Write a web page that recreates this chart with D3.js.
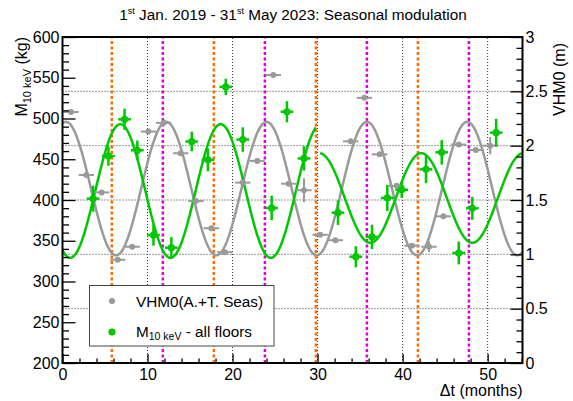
<!DOCTYPE html>
<html lang="en">
  <head>
    <meta charset="utf-8" />
    <script src="https://cdn.jsdelivr.net/npm/d3@7/dist/d3.min.js"></script>
    <title>Seasonal modulation</title>
    <style>
      body { margin: 0; background: #fff; }
      svg { font-family: "Liberation Sans", Arial, sans-serif; display: block; }
      .tick text { font-size: 16px; fill: #000; }
      .grid { stroke: #333; stroke-width: 1; stroke-dasharray: 1 2; }
    </style>
  </head>
  <body>
    <div id="container"></div>

    <script>
      // VHM0 (A.+T. Seas), metres, on the right axis
      const waveMonth = [1.0, 2.8, 4.6, 6.5, 8.2, 10.1, 11.9, 13.9, 15.7, 17.5, 19.1, 21.2, 22.9, 24.8,
        26.6, 28.4, 30.3, 32.1, 33.9, 35.5, 37.3, 39.3, 41.1, 43.1, 44.8, 46.6, 48.6, 50.3];
      const waveHeight = [2.31, 1.73, 1.57, 0.95, 1.07, 2.13, 2.21, 1.93, 1.49, 1.24, 1.02, 1.66, 1.86, 2.65,
        1.65, 1.59, 1.18, 1.13, 2.04, 2.44, 1.92, 1.63, 1.08, 1.07, 1.35, 2.01, 1.96, 2.0];
      const waveErr = [0.02, 0.02, 0.02, 0.02, 0.02, 0.02, 0.02, 0.02, 0.02, 0.02, 0.02, 0.02, 0.02, 0.02,
        0.02, 0.11, 0.02, 0.02, 0.02, 0.02, 0.02, 0.02, 0.02, 0.05, 0.02, 0.02, 0.02, 0.08];
      const waveMonthErr = 0.9;

      // M10keV - all floors, kg, on the left axis
      const massMonth = [3.6, 5.4, 7.3, 8.8, 10.7, 12.8, 15.2, 17.1, 19.2, 21.2, 24.6, 26.4, 28.4,
        32.4, 34.5, 36.4, 38.2, 39.9, 42.75, 44.6, 46.6, 48.2, 51.0];
      const massKg = [401.6, 454, 499, 461, 357, 341.5, 471.8, 449.3, 538.7, 474.2, 390.2, 508.3, 451,
        384.4, 330.4, 354.7, 402.5, 412.6, 437.6, 458.5, 335, 389.8, 482.6];
      const massErr = [16, 12, 13, 12, 13, 13, 12, 14, 10, 15, 15, 13, 15,
        15, 13, 15, 16, 10, 17, 15, 14, 14, 17];
      const massMonthErr = 0.75;

      // cosine fits: [from, to, offset, amplitude, period, month of maximum]
      const waveFit = [[0, 54.1, 1.605, 0.614, 11.8, 0.4]];
      const massFit = [[0, 29.8, 411, 82, 11.8, 6.8], [30.3, 54.1, 402.5, 55, 12, 42.2]];

      const summerLines = [5.8, 17.8, 29.8, 41.8];
      const winterLines = [11.8, 23.8, 35.8, 47.8];

      const width = 573;
      const height = 401;
      const margin = { top: 37, right: 50.5, bottom: 38, left: 62.5 };

      const svg = d3.select("#container").append("svg").attr("width", width).attr("height", height);

      const x = d3.scaleLinear().domain([0, 54.1]).range([margin.left, width - margin.right]);
      const yL = d3.scaleLinear().domain([200, 600]).range([height - margin.bottom, margin.top]);
      const yR = d3.scaleLinear().domain([0, 3]).range([height - margin.bottom, margin.top]);

      const x0 = margin.left, x1 = width - margin.right;
      const y0 = height - margin.bottom, y1 = margin.top;

      // grid
      svg.append("g").selectAll("line").data([10, 20, 30, 40, 50]).join("line")
        .attr("class", "grid")
        .attr("x1", (d) => x(d)).attr("x2", (d) => x(d)).attr("y1", y0).attr("y2", y1);
      svg.append("g").selectAll("line").data([0.5, 1, 1.5, 2, 2.5]).join("line")
        .attr("class", "grid")
        .attr("y1", (d) => yR(d)).attr("y2", (d) => yR(d)).attr("x1", x0).attr("x2", x1);

      // seasons
      svg.append("g").selectAll("line").data(summerLines).join("line")
        .attr("x1", (d) => x(d)).attr("x2", (d) => x(d)).attr("y1", y0).attr("y2", y1)
        .attr("stroke", "#ff6a00").attr("stroke-width", 2.5).attr("stroke-dasharray", "3 2.5");
      svg.append("g").selectAll("line").data(winterLines).join("line")
        .attr("x1", (d) => x(d)).attr("x2", (d) => x(d)).attr("y1", y0).attr("y2", y1)
        .attr("stroke", "#dd00dd").attr("stroke-width", 2.5).attr("stroke-dasharray", "3 2.5");

      // fits
      function fitPoints(f) {
        const [a, b, c, amp, per, pk] = f;
        return d3.range(a, b + 0.001, 0.1).map((t) => [t, c + amp * Math.cos((2 * Math.PI * (t - pk)) / per)]);
      }
      const lineR = d3.line().x((d) => x(d[0])).y((d) => yR(d[1]));
      const lineL = d3.line().x((d) => x(d[0])).y((d) => yL(d[1]));

      svg.append("g").selectAll("path").data(waveFit).join("path")
        .attr("d", (f) => lineR(fitPoints(f)))
        .attr("fill", "none").attr("stroke", "#9a9a9a").attr("stroke-width", 2.5);
      svg.append("g").selectAll("path").data(massFit).join("path")
        .attr("d", (f) => lineL(fitPoints(f)))
        .attr("fill", "none").attr("stroke", "#00c800").attr("stroke-width", 2.5);

      // gray points
      const gW = svg.append("g").attr("stroke", "#9a9a9a").attr("fill", "#9a9a9a");
      waveMonth.forEach((m, i) => {
        const v = waveHeight[i];
        gW.append("line").attr("x1", x(m - waveMonthErr)).attr("x2", x(m + waveMonthErr))
          .attr("y1", yR(v)).attr("y2", yR(v)).attr("stroke-width", 2);
        gW.append("line").attr("x1", x(m)).attr("x2", x(m))
          .attr("y1", yR(v - waveErr[i])).attr("y2", yR(v + waveErr[i])).attr("stroke-width", 2);
        gW.append("circle").attr("cx", x(m)).attr("cy", yR(v)).attr("r", 3).attr("stroke", "none");
      });

      // green points
      const gM = svg.append("g").attr("stroke", "#00c800").attr("fill", "#00c800");
      massMonth.forEach((m, i) => {
        const v = massKg[i];
        gM.append("line").attr("x1", x(m - massMonthErr)).attr("x2", x(m + massMonthErr))
          .attr("y1", yL(v)).attr("y2", yL(v)).attr("stroke-width", 2.5);
        gM.append("line").attr("x1", x(m)).attr("x2", x(m))
          .attr("y1", yL(v - massErr[i])).attr("y2", yL(v + massErr[i])).attr("stroke-width", 2.5);
        gM.append("circle").attr("cx", x(m)).attr("cy", yL(v)).attr("r", 3.6).attr("stroke", "none");
      });

      // legend
      const leg = svg.append("g");
      leg.append("rect").attr("x", 89.5).attr("y", 285.5).attr("width", 184.5).attr("height", 60.5)
        .attr("fill", "#fff").attr("stroke", "#444").attr("stroke-width", 1);
      leg.append("circle").attr("cx", 112).attr("cy", 301).attr("r", 3).attr("fill", "#9a9a9a");
      leg.append("circle").attr("cx", 112).attr("cy", 332).attr("r", 3.6).attr("fill", "#00c800");
      leg.append("text").attr("x", 136).attr("y", 306.5).attr("font-size", 15.3).text("VHM0(A.+T. Seas)");
      const lt = leg.append("text").attr("x", 136).attr("y", 337).attr("font-size", 15.3);
      lt.append("tspan").text("M");
      lt.append("tspan").attr("font-size", 10.5).attr("dy", 3).text("10 keV");
      lt.append("tspan").attr("dy", -3).text(" - all floors");

      // axes
      svg.append("g").attr("transform", `translate(${x0},0)`)
        .call(d3.axisLeft(yL).tickValues(d3.range(200, 601, 50)).tickSize(-13).tickPadding(3));
      svg.append("g").attr("transform", `translate(${x0},0)`)
        .call(d3.axisLeft(yL).tickValues(d3.range(200, 601, 10).filter((d) => d % 50)).tickSize(-6.5).tickFormat(""));
      svg.append("g").attr("transform", `translate(${x1},0)`)
        .call(d3.axisRight(yR).tickValues([0, 0.5, 1, 1.5, 2, 2.5, 3]).tickSize(-12).tickPadding(3)
          .tickFormat((d) => String(d)));
      svg.append("g").attr("transform", `translate(${x1},0)`)
        .call(d3.axisRight(yR).tickValues(d3.range(0, 31).filter((d) => d % 5).map((d) => d / 10)).tickSize(-6).tickFormat(""));
      svg.append("g").attr("transform", `translate(0,${y0})`)
        .call(d3.axisBottom(x).tickValues([0, 10, 20, 30, 40, 50]).tickSize(-9).tickPadding(6));
      svg.append("g").attr("transform", `translate(0,${y0})`)
        .call(d3.axisBottom(x).tickValues(d3.range(2, 55, 2).filter((d) => d % 10)).tickSize(-4.5).tickFormat(""));

      svg.selectAll(".domain").remove();
      svg.selectAll(".tick line").attr("stroke", "#000").attr("stroke-width", 1.3);
      svg.selectAll(".tick text").attr("font-family", null);

      // frame
      svg.append("rect").attr("x", x0).attr("y", y1).attr("width", x1 - x0).attr("height", y0 - y1)
        .attr("fill", "none").attr("stroke", "#000").attr("stroke-width", 2);

      // titles
      const tl = svg.append("text").attr("transform", "translate(27,37) rotate(-90)")
        .attr("text-anchor", "end").attr("font-size", 16);
      tl.append("tspan").text("M");
      tl.append("tspan").attr("font-size", 11).attr("dy", 4).text("10 keV");
      tl.append("tspan").attr("dy", -4).text(" (kg)");

      svg.append("text").attr("transform", "translate(565,43) rotate(-90)")
        .attr("text-anchor", "end").attr("font-size", 16).text("VHM0 (m)");

      svg.append("text").attr("x", x1).attr("y", 396).attr("text-anchor", "end")
        .attr("font-size", 16).text("\u0394t (months)");

      const tt = svg.append("text").attr("x", 293).attr("y", 20).attr("text-anchor", "middle").attr("font-size", 15.3);
      tt.append("tspan").text("1");
      tt.append("tspan").attr("font-size", 9).attr("dy", -6).text("st");
      tt.append("tspan").attr("dy", 6).text(" Jan. 2019 - 31");
      tt.append("tspan").attr("font-size", 9).attr("dy", -6).text("st");
      tt.append("tspan").attr("dy", 6).text(" May 2023: Seasonal modulation");
    </script>
  </body>
</html>
